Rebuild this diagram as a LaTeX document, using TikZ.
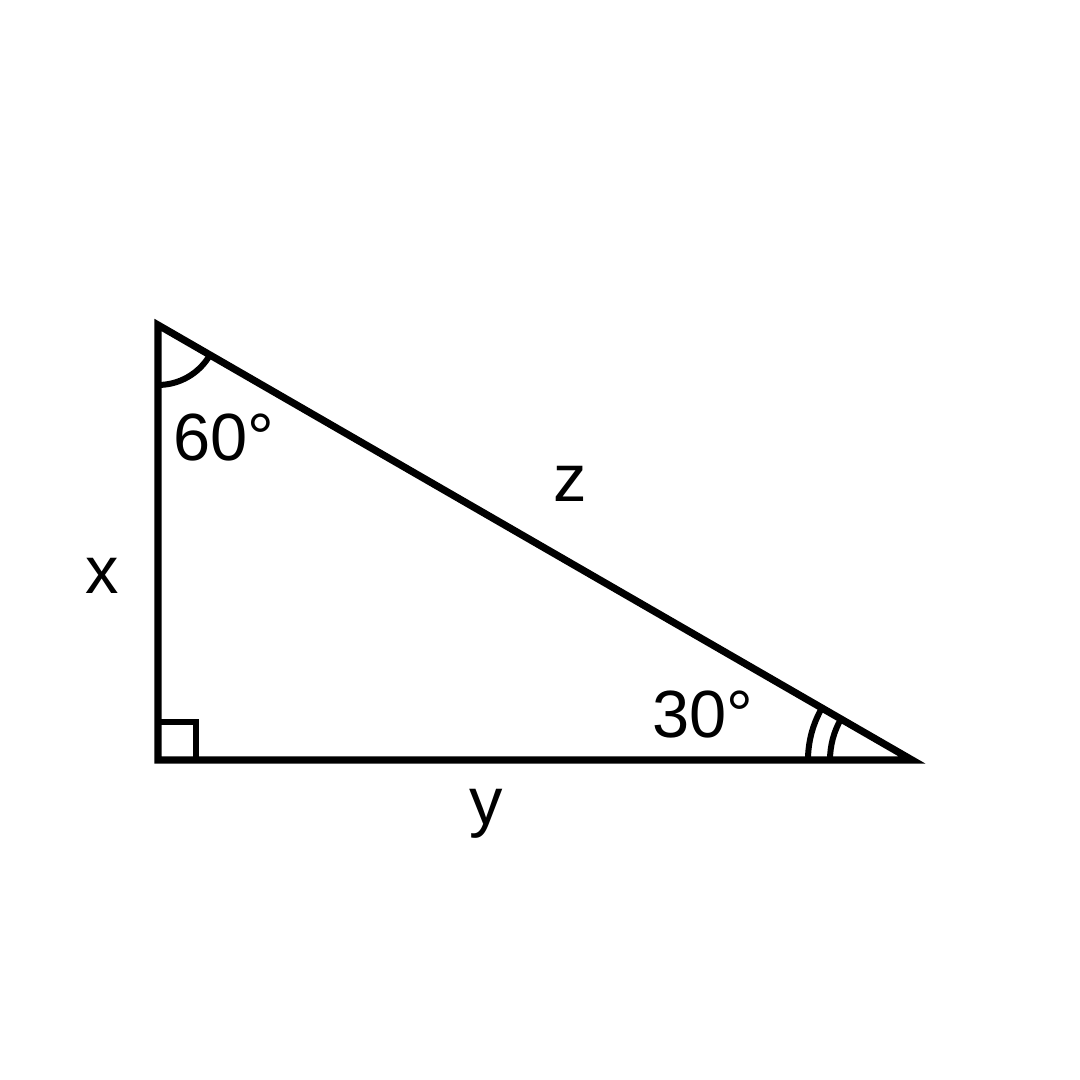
\documentclass[tikz,border=0pt]{standalone}
\usepackage{fontspec}
\setmainfont{Liberation Sans}
\usepackage{tikz}
\usetikzlibrary{calc}

\begin{document}
\begin{tikzpicture}
\tikzset{side/.style={line width=0.072cm, line join=miter}}
\tikzstyle{anglemark} =[line width=0.06cm]
\tikzset{lbl/.style={inner sep=0pt, font=\fontsize{19}{22}\selectfont}}

\useasboundingbox (0,0) rectangle (10.8,10.8);

\coordinate (A) at (1.58,7.55);
\coordinate (B) at (1.58,3.20);
\coordinate (C) at (9.12,3.20);

\draw[side] (A) -- (B) -- (C) -- cycle;

% right angle
\draw[anglemark] ($(B)+(0,0.38)$) -| ($(B)+(0.38,0)$);

% angle arcs
\draw[anglemark] (A) ++(270:0.6) arc[start angle=270, end angle=330, radius=0.6];
\draw[anglemark] (C) ++(180:1.04) arc[start angle=180, end angle=150, radius=1.04];
\draw[anglemark] (C) ++(180:0.82) arc[start angle=180, end angle=150, radius=0.82];

\node[lbl](a60) at (2.24,6.42){60°};
\node[lbl](a30) at (7.03,3.65){30°};
\node[lbl](sx) at (1.02,5.04){x};
\node[lbl](sy) at (4.86,2.66){y};
\node[lbl](sz) at (5.70,5.96){z};
\end{tikzpicture}
\end{document}
